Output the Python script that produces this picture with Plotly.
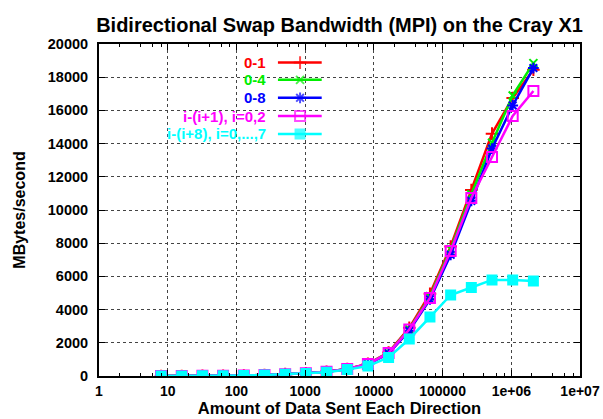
import plotly.graph_objects as go

# ---- data ----
msg_bytes = [2**k for k in range(3, 22)]
bw_0_1 = [2, 4, 8, 16, 32, 60, 110, 170, 260, 420, 730, 1420, 2900, 4950, 7800, 11200, 14600, 16750, 18450]
bw_0_4 = [2, 4, 8, 16, 32, 60, 110, 170, 260, 420, 720, 1390, 2820, 4800, 7650, 10950, 14050, 16900, 18850]
bw_0_8 = [2, 4, 8, 16, 32, 60, 105, 165, 250, 410, 700, 1350, 2720, 4620, 7300, 10550, 13700, 16300, 18550]
bw_i_i1 = [2, 4, 8, 16, 32, 60, 110, 170, 260, 420, 720, 1390, 2800, 4700, 7530, 10720, 13190, 15660, 17170]
bw_i_i8 = [2, 4, 8, 16, 32, 60, 100, 145, 220, 385, 600, 1120, 2230, 3550, 4880, 5330, 5790, 5790, 5720]

series_names = ["0-1", "0-4", "0-8", "i-(i+1), i=0,2", "i-(i+8), i=0,...,7"]
series_values = [bw_0_1, bw_0_4, bw_0_8, bw_i_i1, bw_i_i8]
series_colors = ["#ff0000", "#00ee00", "#0000ff", "#ff00ff", "#00ffff"]
series_symbols = ["cross-thin", "x-thin", "asterisk-open", "square-open", "square"]
series_sizes = [9, 8, 9, 10, 9]

x_tickvals = [1, 10, 100, 1000, 10000, 100000, 1000000, 10000000]
x_ticktext = ["1", "10", "100", "1000", "10000", "100000", "1e+06", "1e+07"]
y_tickvals = list(range(0, 20001, 2000))

FONT = "Liberation Sans, Arial, sans-serif"

fig = go.Figure()

for name, vals, col, sym, sz in zip(series_names, series_values, series_colors, series_symbols, series_sizes):
    fig.add_trace(go.Scatter(
        x=msg_bytes, y=vals, name=name, mode="lines+markers",
        line=dict(color=col, width=2.5),
        marker=dict(symbol=sym, size=sz, color=col, line=dict(color=col, width=2)),
        showlegend=False,
    ))

# legend drawn gnuplot-style (text right, sample line to the right)
leg_rows = [0.944, 0.892, 0.838, 0.783, 0.729]
lx0, lxm, lx1, ltext = 0.372, 0.418, 0.463, 0.352
for i, (name, col, sym, sz) in enumerate(zip(series_names, series_colors, series_symbols, series_sizes)):
    r = leg_rows[i]
    fig.add_trace(go.Scatter(
        x=[lx0, lxm, lx1], y=[r, r, r], xaxis="x2", yaxis="y2", mode="lines+markers",
        line=dict(color=col, width=2.5),
        marker=dict(symbol=sym, size=[0, sz, 0], color=col, line=dict(color=col, width=2)),
        showlegend=False, hoverinfo="skip",
    ))
    fig.add_annotation(
        x=ltext, y=r, xref="paper", yref="paper", text="<b>%s</b>" % name,
        showarrow=False, xanchor="right", yanchor="middle",
        font=dict(family=FONT, size=15, color=col),
    )

fig.add_shape(type="rect", xref="paper", yref="paper", x0=0, x1=0.482, y0=0.708, y1=1,
              fillcolor="white", line=dict(width=0), layer="between")

minor_vals = [m * 10**e for e in range(0, 7) for m in (2, 4, 6, 8)]

fig.update_layout(
    width=603, height=419,
    margin=dict(l=99, r=23, t=44, b=43),
    paper_bgcolor="white", plot_bgcolor="white",
    font=dict(family=FONT, size=14, color="black"),
    title=dict(text="<b>Bidirectional Swap Bandwidth (MPI) on the Cray X1</b>",
               x=0.5, xref="paper", xanchor="center", y=1 - 25 / 419, yanchor="middle",
               font=dict(family=FONT, size=20, color="black")),
    xaxis=dict(
        type="log", range=[0, 7], automargin=False,
        tickvals=x_tickvals, ticktext=["<b>%s</b>" % t for t in x_ticktext],
        ticks="inside", ticklen=6, tickwidth=1, tickcolor="black",
        showline=True, linecolor="black", linewidth=2, mirror="ticks",
        showgrid=True, gridcolor="#444", griddash="dot", gridwidth=1,
        minor=dict(tickvals=minor_vals, ticks="inside", ticklen=3, tickcolor="black", showgrid=False),
        tickfont=dict(size=14), ticklabelstandoff=1, zeroline=False,
        title=dict(text="<b>Amount of Data Sent Each Direction</b>", standoff=2,
                   font=dict(size=16.5)),
    ),
    yaxis=dict(
        range=[0, 20000], tickvals=y_tickvals, automargin=False,
        ticktext=["<b>%d</b>" % v for v in y_tickvals],
        ticks="inside", ticklen=6, tickwidth=1, tickcolor="black",
        showline=True, linecolor="black", linewidth=2, mirror="ticks",
        showgrid=True, gridcolor="#444", griddash="dot", gridwidth=1,
        tickfont=dict(size=14.5), ticklabelstandoff=6, zeroline=False,
        title=dict(text="<b>MBytes/second</b>", standoff=18, font=dict(size=16)),
    ),
    xaxis2=dict(overlaying="x", range=[0, 1], visible=False, fixedrange=True),
    yaxis2=dict(overlaying="y", range=[0, 1], visible=False, fixedrange=True),
    showlegend=False,
)

fig.write_html("out.html")
